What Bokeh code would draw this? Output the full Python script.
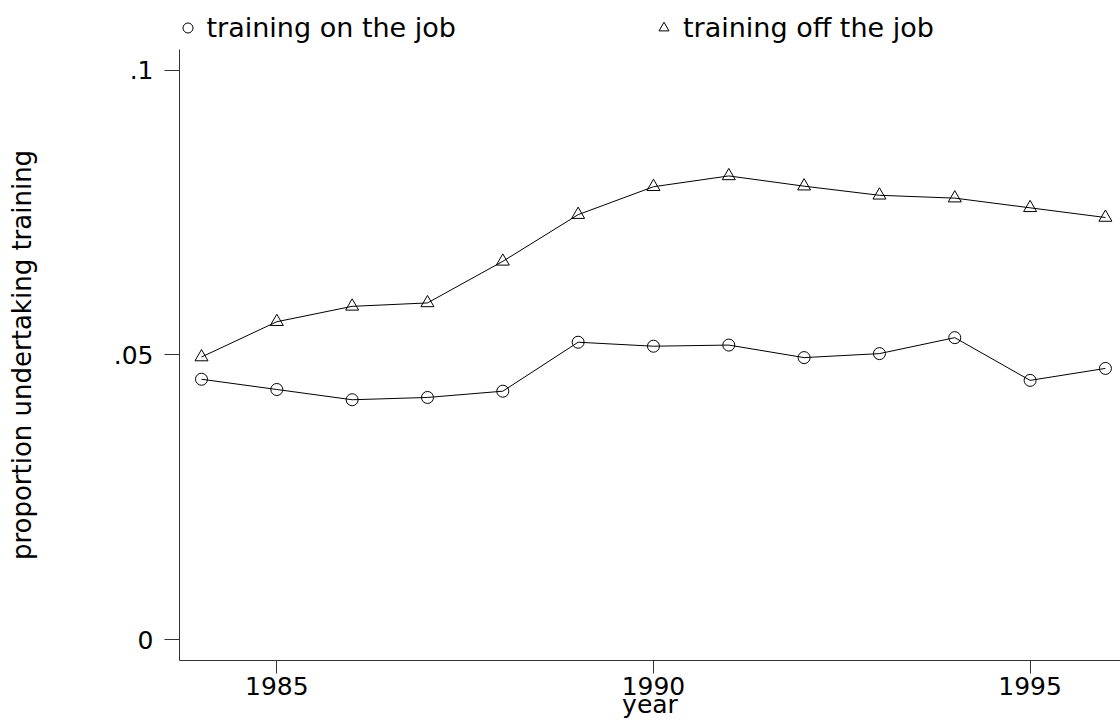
from bokeh.plotting import figure
from bokeh.layouts import column
from bokeh.models import Range1d, FixedTicker, Legend, LegendItem
from bokeh.embed import file_html
from bokeh.resources import INLINE

# ---- data ----
years = [1984, 1985, 1986, 1987, 1988, 1989, 1990, 1991, 1992, 1993, 1994, 1995, 1996]
on_the_job = [0.0457, 0.0439, 0.0421, 0.0425, 0.0436, 0.0522, 0.0515, 0.0517, 0.0495, 0.0502, 0.0530, 0.0455, 0.0476]
off_the_job = [0.0496, 0.0558, 0.0585, 0.0591, 0.0664, 0.0746, 0.0795, 0.0814, 0.0796, 0.0780, 0.0775, 0.0758, 0.0741]
x_ticks = [1985, 1990, 1995]
y_ticks = [0, 0.05, 0.1]
y_tick_labels = ["0", ".05", ".1"]
series_names = ["training on the job", "training off the job"]

FONT = "DejaVu Sans"
AX = "#333333"

# ---------------- key (legend) strip on top ----------------
# its frame is aligned with the main plot's frame by the column layout;
# the series are drawn there out of view, only to give the key its markers
head = figure(width=1120, height=49, output_backend="svg", toolbar_location=None,
              x_range=Range1d(0, 1), y_range=Range1d(0, 1),
              x_axis_location=None, y_axis_location=None,
              min_border_left=0, min_border_right=0, min_border_top=0, min_border_bottom=0)
head.outline_line_color = None
head.xgrid.visible = False
head.ygrid.visible = False
k_on = head.scatter(years, on_the_job, marker="circle", size=12, fill_color=None,
                    line_color="black", line_width=1)
k_off = head.scatter(years, off_the_job, marker="triangle", size=13, fill_color=None,
                     line_color="black", line_width=1)
legend = Legend(items=[LegendItem(label=series_names[0], renderers=[k_on]),
                       LegendItem(label=series_names[1], renderers=[k_off])],
                location=(-4.5, 6), orientation="horizontal",
                glyph_width=25, glyph_height=25, label_standoff=7, spacing=195,
                padding=0, margin=0, border_line_color=None,
                background_fill_alpha=0, label_text_font=FONT,
                label_text_font_size="27px", label_text_color="black",
                label_height=25)
head.add_layout(legend)

# ---------------- main plot ----------------
p = figure(width=1120, height=675, output_backend="svg", toolbar_location=None,
           x_range=Range1d(1983.708, 1996.2), y_range=Range1d(-0.003687, 0.1036),
           min_border_left=179, min_border_right=0, min_border_top=0, min_border_bottom=64)
p.outline_line_color = None
p.xgrid.visible = False
p.ygrid.visible = False
p.background_fill_color = "white"

# x axis
xa = p.xaxis[0]
xa.ticker = FixedTicker(ticks=x_ticks)
xa.major_tick_in = 0
xa.major_tick_out = 13
xa.minor_tick_out = 0
xa.minor_tick_in = 0
xa.major_label_standoff = 3
xa.major_label_text_font = FONT
xa.major_label_text_font_size = "25px"
xa.major_label_text_color = "black"
xa.axis_line_color = AX
xa.major_tick_line_color = AX
xa.axis_label = "year"
xa.axis_label_text_font = FONT
xa.axis_label_text_font_size = "25px"
xa.axis_label_text_font_style = "normal"
xa.axis_label_text_color = "black"
xa.axis_label_standoff = -8

# y axis
ya = p.yaxis[0]
ya.ticker = FixedTicker(ticks=y_ticks)
ya.major_label_overrides = {t: s for t, s in zip(y_ticks, y_tick_labels)}
ya.major_tick_in = 0
ya.major_tick_out = 15
ya.minor_tick_out = 0
ya.minor_tick_in = 0
ya.major_label_standoff = 11
ya.major_label_text_font = FONT
ya.major_label_text_font_size = "25px"
ya.major_label_text_color = "black"
ya.axis_line_color = AX
ya.major_tick_line_color = AX
ya.axis_label = "proportion undertaking training"
ya.axis_label_text_font = FONT
ya.axis_label_text_font_size = "26px"
ya.axis_label_text_font_style = "normal"
ya.axis_label_text_color = "black"
ya.axis_label_standoff = 74

# series
p.line(years, on_the_job, line_color="black", line_width=1)
p.scatter(years, on_the_job, marker="circle", size=12, fill_color=None,
          line_color="black", line_width=1)
p.line(years, off_the_job, line_color="black", line_width=1)
p.scatter(years, off_the_job, marker="triangle", size=13, fill_color=None,
          line_color="black", line_width=1)

layout = column(head, p, spacing=0)
open("out.html", "w").write(file_html(layout, INLINE))
